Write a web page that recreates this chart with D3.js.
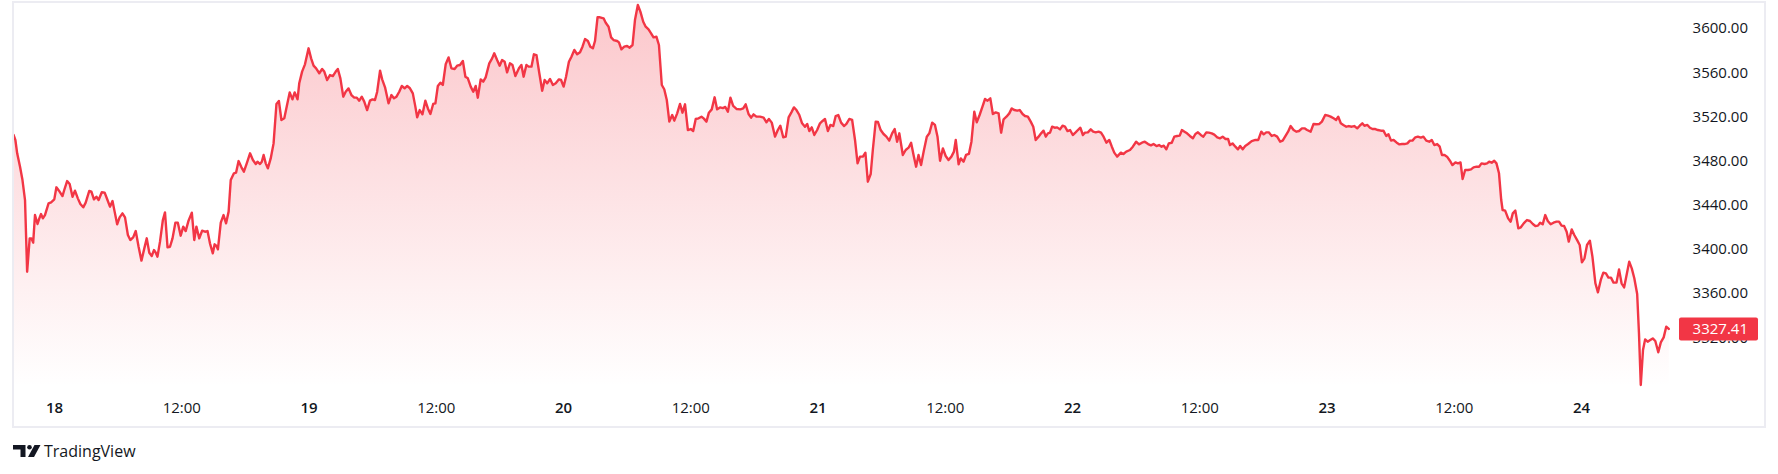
<!DOCTYPE html>
<html><head><meta charset="utf-8">
<script src="https://cdn.jsdelivr.net/npm/d3@7"></script>
<style>html,body{margin:0;padding:0;background:#fff;overflow:hidden}</style>
</head><body><svg id="chart" width="1778" height="474"></svg>
<script>
// [hours since the 18th 00:00, price]
const points = [
[-3.86,3503.1],[-3.69,3498.6],[-3.52,3486.5],[-3.25,3474.4],[-3.02,3462.3],[-2.78,3444.2],[-2.58,3379.3],[-2.34,3409.5],[-2.18,3409.5],[-2.01,3405.6],
[-1.84,3430.6],[-1.60,3422.5],[-1.43,3427.6],[-1.27,3431.5],[-1.10,3427.6],[-0.90,3430.6],[-0.56,3441.2],[-0.32,3442.1],[-0.02,3444.8],[0.18,3455.7],
[0.42,3452.7],[0.75,3447.8],[0.92,3453.3],[1.19,3461.4],[1.43,3458.7],[1.70,3447.2],[1.93,3452.7],[2.20,3445.7],[2.44,3440.6],[2.71,3437.6],
[2.94,3441.8],[3.28,3452.4],[3.48,3451.8],[3.72,3444.8],[3.95,3447.2],[4.16,3444.2],[4.46,3451.2],[4.73,3450.9],[4.96,3445.1],[5.23,3438.2],
[5.47,3443.3],[5.67,3433.7],[5.91,3422.2],[6.14,3428.5],[6.41,3432.1],[6.65,3428.5],[6.92,3412.5],[7.15,3408.0],[7.42,3410.4],[7.66,3416.1],
[7.93,3401.9],[8.20,3389.3],[8.47,3400.4],[8.70,3409.5],[8.94,3396.5],[9.17,3393.5],[9.38,3398.9],[9.55,3396.5],[9.71,3392.9],[9.95,3406.5],
[10.22,3426.1],[10.42,3433.0],[10.66,3401.3],[10.89,3401.9],[11.13,3409.5],[11.40,3423.7],[11.63,3423.7],[11.90,3411.9],[12.14,3420.1],[12.37,3416.1],
[12.64,3425.5],[12.95,3432.7],[13.18,3408.0],[13.38,3420.1],[13.65,3409.5],[13.92,3416.4],[14.19,3415.5],[14.43,3416.1],[14.66,3405.0],[14.93,3395.9],
[15.10,3404.1],[15.27,3402.6],[15.41,3399.5],[15.68,3423.7],[15.94,3430.6],[16.18,3423.1],[16.42,3433.7],[16.62,3462.3],[16.92,3468.4],[17.12,3469.0],
[17.36,3479.5],[17.63,3473.8],[17.86,3469.9],[18.13,3477.4],[18.44,3486.5],[18.71,3480.5],[18.98,3476.8],[19.14,3478.9],[19.38,3476.8],[19.55,3478.9],
[19.72,3485.0],[19.92,3477.4],[20.12,3472.9],[20.39,3481.9],[20.66,3495.5],[20.93,3531.2],[21.16,3533.9],[21.40,3516.7],[21.67,3518.2],[21.91,3529.4],
[22.18,3541.7],[22.44,3535.4],[22.65,3541.7],[22.92,3535.4],[23.08,3549.9],[23.35,3560.5],[23.62,3567.1],[23.96,3581.6],[24.20,3572.5],[24.43,3565.9],
[24.67,3563.5],[24.97,3559.0],[25.24,3562.9],[25.44,3560.5],[25.71,3552.9],[25.98,3557.4],[26.25,3556.5],[26.52,3560.5],[26.72,3562.9],[26.96,3554.4],
[27.23,3537.8],[27.46,3542.3],[27.73,3545.3],[28.00,3539.3],[28.27,3536.9],[28.51,3536.9],[28.74,3534.2],[28.98,3537.8],[29.21,3533.3],[29.48,3525.7],
[29.75,3534.2],[29.99,3535.4],[30.22,3534.8],[30.43,3542.3],[30.70,3561.4],[30.90,3553.5],[31.17,3546.3],[31.50,3531.8],[31.77,3539.3],[32.01,3536.3],
[32.25,3537.8],[32.51,3542.3],[32.75,3547.5],[33.02,3545.4],[33.26,3547.5],[33.52,3545.4],[33.79,3540.8],[34.03,3528.8],[34.20,3519.1],[34.44,3525.7],
[34.70,3521.8],[34.97,3534.2],[35.21,3527.2],[35.45,3522.1],[35.71,3531.2],[35.92,3531.8],[36.15,3547.5],[36.39,3550.5],[36.62,3548.4],[36.89,3567.1],
[37.16,3573.4],[37.43,3563.5],[37.73,3562.9],[37.97,3565.9],[38.24,3566.5],[38.51,3570.1],[38.75,3555.9],[38.98,3554.4],[39.25,3546.9],[39.49,3542.3],
[39.72,3547.5],[39.92,3536.9],[40.19,3553.5],[40.43,3551.4],[40.66,3555.3],[41.00,3568.0],[41.27,3572.5],[41.47,3577.1],[41.74,3571.0],[41.98,3565.9],
[42.21,3571.0],[42.45,3569.5],[42.68,3559.8],[42.95,3568.0],[43.19,3566.5],[43.46,3556.5],[43.80,3563.5],[44.03,3566.5],[44.24,3555.9],[44.50,3566.5],
[44.71,3565.0],[44.98,3565.0],[45.21,3576.2],[45.45,3575.5],[45.72,3559.0],[45.99,3543.2],[46.22,3552.9],[46.46,3549.9],[46.73,3553.8],[47.00,3548.4],
[47.27,3549.9],[47.57,3553.5],[47.77,3552.9],[48.01,3546.9],[48.24,3555.9],[48.51,3569.5],
[48.75,3574.0],[49.02,3580.1],[49.29,3576.2],[49.56,3578.0],[49.79,3583.1],[50.03,3590.0],[50.30,3588.2],[50.53,3583.1],[50.77,3581.6],[50.97,3588.2],
[51.21,3609.7],[51.44,3609.7],[51.78,3608.8],[51.98,3604.8],[52.25,3601.2],[52.49,3591.5],[52.72,3589.1],[53.06,3588.2],[53.23,3587.0],[53.46,3580.7],
[53.73,3583.1],[54.00,3583.7],[54.24,3582.2],[54.51,3584.6],[54.74,3607.2],[55.01,3620.8],[55.25,3614.8],[55.52,3605.7],[55.75,3601.2],[56.02,3598.8],
[56.26,3595.2],[56.49,3591.5],[56.76,3592.1],[57.00,3584.6],[57.27,3548.4],[57.50,3544.5],[57.74,3534.8],[57.98,3515.2],[58.25,3521.2],[58.45,3516.1],
[58.72,3522.7],[58.99,3531.2],[59.22,3523.3],[59.46,3530.9],[59.73,3507.6],[60.00,3508.5],[60.23,3506.7],[60.47,3517.6],[60.74,3518.2],[61.01,3519.7],
[61.24,3517.9],[61.48,3515.2],[61.71,3523.3],[61.98,3526.3],[62.25,3537.2],[62.49,3526.3],[62.76,3528.1],[63.03,3527.5],[63.26,3528.5],[63.50,3524.2],
[63.74,3536.9],[64.00,3529.4],[64.34,3526.6],[64.68,3526.3],[64.95,3527.2],[65.18,3530.9],[65.45,3522.1],[65.69,3518.8],[65.92,3521.8],[66.19,3519.7],
[66.53,3519.7],[66.87,3518.8],[67.14,3514.6],[67.37,3517.6],[67.64,3514.3],[67.95,3501.6],[68.21,3507.6],[68.45,3511.5],[68.72,3501.0],[68.96,3501.6],
[69.23,3519.1],[69.49,3523.6],[69.73,3528.1],[69.97,3525.7],[70.24,3521.2],[70.50,3513.7],[70.77,3510.6],[70.98,3513.1],[71.18,3506.7],[71.41,3510.0],
[71.65,3503.1],[71.92,3507.6],[72.19,3513.7],[72.43,3515.8],[72.66,3517.6],[72.93,3506.7],[73.17,3512.2],[73.44,3511.2],[73.67,3520.3],[73.91,3521.2],
[74.18,3514.3],[74.45,3511.2],[74.68,3513.1],[74.95,3517.6],[75.22,3516.7],[75.49,3498.6],[75.73,3477.4],[75.96,3483.5],[76.23,3483.5],[76.47,3487.1],
[76.70,3460.8],[76.97,3467.8],[77.17,3489.5],[77.44,3515.2],[77.65,3514.9],[77.91,3507.6],[78.18,3504.0],[78.45,3501.6],[78.72,3498.0],[78.99,3504.6],
[79.23,3508.5],[79.46,3497.0],[79.67,3504.6],[80.00,3485.0],[80.27,3489.5],[80.54,3491.6],[80.78,3496.1],[81.01,3485.0],[81.25,3474.4],[81.48,3485.0],
[81.72,3475.9],[81.96,3488.0],[82.26,3501.6],[82.50,3504.6],[82.77,3514.3],[83.03,3512.2],[83.27,3501.6],[83.51,3479.8],[83.78,3491.0],[84.04,3484.1],
[84.31,3480.4],[84.58,3483.5],[84.82,3488.0],[84.99,3498.6],[85.26,3476.5],[85.46,3481.9],[85.73,3478.9],[85.96,3485.0],[86.23,3485.9],[86.47,3497.0],
[86.74,3524.2],[86.97,3514.6],[87.24,3521.2],[87.51,3528.8],[87.75,3535.7],[87.99,3534.2],[88.25,3536.3],[88.49,3522.1],[88.76,3523.6],[89.03,3522.7],
[89.27,3505.2],[89.50,3517.3],[89.77,3519.7],[90.04,3522.7],[90.27,3527.2],[90.51,3525.7],[90.78,3525.1],[91.02,3525.7],[91.29,3522.1],[91.52,3520.3],
[91.79,3519.7],[92.06,3515.2],[92.30,3510.6],[92.53,3498.6],[92.80,3501.6],[93.04,3504.6],[93.27,3507.0],[93.48,3501.6],[93.68,3504.6],[93.88,3505.2],
[94.08,3510.6],[94.32,3509.7],[94.55,3510.0],[94.82,3508.2],[95.06,3511.5],[95.29,3510.6],[95.53,3506.7],[95.77,3507.6],[96.03,3503.1],[96.27,3505.2],
[96.51,3507.6],[96.74,3509.7],[96.98,3503.1],[97.18,3505.2],[97.45,3505.5],[97.72,3508.2],[97.95,3506.1],[98.19,3505.5],[98.46,3506.1],[98.69,3505.2],
[98.93,3501.6],[99.20,3496.1],[99.47,3498.6],[99.71,3492.5],[99.94,3487.1],[100.21,3483.5],
[100.56,3487.1],[100.80,3485.9],[101.07,3488.0],[101.42,3489.5],[101.69,3492.5],[102.00,3497.0],[102.27,3494.6],[102.55,3496.1],[102.82,3497.0],[103.13,3494.9],
[103.40,3493.7],[103.64,3494.9],[103.92,3493.1],[104.16,3494.0],[104.40,3492.5],[104.61,3493.4],[104.85,3490.1],[105.08,3495.5],[105.36,3496.1],[105.60,3501.6],
[105.87,3502.2],[106.11,3502.5],[106.32,3507.6],[106.56,3506.1],[106.80,3504.6],[107.07,3502.2],[107.35,3500.1],[107.59,3504.0],[107.83,3505.5],[108.10,3503.1],
[108.34,3501.6],[108.62,3505.5],[108.86,3505.2],[109.13,3504.6],[109.37,3503.4],[109.65,3501.0],[109.92,3500.1],[110.16,3501.6],[110.43,3499.5],[110.67,3499.5],
[110.85,3494.0],[111.09,3495.5],[111.36,3492.5],[111.60,3490.1],[111.81,3493.1],[112.05,3490.1],[112.29,3493.1],[112.56,3494.9],[112.90,3497.6],[113.25,3498.6],
[113.52,3498.6],[113.80,3506.1],[114.03,3503.7],[114.27,3505.5],[114.51,3505.5],[114.79,3502.2],[115.03,3503.1],[115.30,3501.6],[115.58,3497.0],[115.82,3497.9],
[116.09,3502.2],[116.33,3506.1],[116.57,3511.2],[116.85,3507.6],[117.12,3506.1],[117.36,3506.7],[117.64,3509.1],[117.88,3509.1],[118.12,3507.6],[118.46,3506.1],
[118.73,3513.1],[119.01,3512.8],[119.28,3513.1],[119.52,3515.2],[119.83,3521.2],[120.10,3520.6],[120.34,3519.7],[120.62,3518.2],[120.86,3516.7],[121.06,3519.7],
[121.30,3513.7],[121.54,3512.2],[121.82,3510.6],[122.06,3511.2],[122.33,3510.6],[122.57,3511.2],[122.85,3509.1],[123.09,3511.5],[123.33,3513.7],[123.53,3511.5],
[123.81,3512.2],[124.05,3509.7],[124.29,3508.5],[124.56,3508.5],[124.80,3507.6],[125.08,3507.0],[125.32,3507.0],[125.59,3502.2],[125.80,3503.7],[126.04,3498.0],
[126.28,3498.6],[126.55,3496.4],[126.83,3494.6],[127.07,3494.9],[127.31,3494.9],[127.58,3495.5],[127.82,3498.0],[128.06,3498.0],[128.33,3501.0],[128.57,3501.6],
[128.85,3500.7],[129.09,3501.6],[129.36,3498.0],[129.64,3497.0],[129.88,3498.6],[130.12,3494.0],[130.39,3494.9],[130.63,3492.5],[130.84,3485.0],[131.08,3485.0],
[131.32,3483.5],[131.59,3479.8],[131.83,3475.9],[132.11,3478.3],[132.35,3477.4],[132.59,3478.3],[132.79,3463.2],[133.03,3471.4],[133.31,3471.4],[133.58,3472.0],
[133.82,3473.8],[134.10,3474.4],[134.34,3474.4],[134.57,3477.4],[134.85,3476.8],[135.09,3477.4],[135.29,3478.9],[135.53,3478.0],[135.77,3479.8],[135.98,3477.4],
[136.22,3468.4],[136.43,3444.2],[136.56,3435.2],[136.80,3434.6],[137.08,3427.6],[137.32,3424.6],[137.52,3432.1],[137.76,3434.6],[138.04,3418.6],[138.28,3419.5],
[138.55,3423.1],[138.86,3426.1],[139.14,3425.2],[139.41,3422.5],[139.65,3420.7],[139.89,3421.0],[140.10,3423.7],[140.34,3422.2],[140.58,3430.6],[140.82,3425.2],
[141.09,3422.2],[141.36,3423.7],[141.64,3424.6],[141.88,3424.6],[142.12,3421.0],[142.36,3420.7],[142.60,3415.5],[142.80,3406.5],[143.08,3417.6],[143.32,3412.5],
[143.59,3407.9],[143.83,3403.5],[144.04,3387.8],[144.28,3391.4],[144.52,3403.5],[144.79,3407.4],[145.03,3392.9],[145.31,3368.8],[145.55,3360.6],[145.82,3371.8],
[146.06,3378.4],[146.30,3377.8],[146.54,3373.9],[146.78,3373.9],[147.02,3369.4],[147.30,3369.4],[147.54,3381.4],[147.78,3368.8],[148.02,3365.1],[148.22,3374.8],
[148.50,3388.4],[148.74,3382.3],[148.98,3373.3],[149.25,3359.1],[149.42,3323.5],[149.59,3276.7],[149.80,3308.4],[150.00,3318.0],[150.24,3315.9],[150.48,3317.4],
[150.72,3318.9],[150.96,3316.5],[151.24,3306.3],[151.48,3315.3],[151.75,3319.8],[151.99,3329.5],[152.23,3327.41]
];
const priceTicks = [3320, 3360, 3400, 3440, 3480, 3520, 3560, 3600];
const timeTicks = [0, 12, 24, 36, 48, 60, 72, 84, 96, 108, 120, 132, 144];
const timeTickLabels = ["18","12:00","19","12:00","20","12:00","21","12:00","22","12:00","23","12:00","24"];
const lastPrice = 3327.41;

const lineColor = "#f23645";
const textColor = "#131722";
const font = "'Open Sans', 'Noto Sans', sans-serif";

const svg = d3.select("#chart");
const pane = {left: 14, top: 3, right: 1680, bottom: 387};
const x = d3.scaleLinear().domain([0, 144]).range([54.5, 1581.5]);
const y = d3.scaleLinear().domain([3360, 3600]).range([293, 28]);

const defs = svg.append("defs");
defs.append("clipPath").attr("id", "paneClip").append("rect")
  .attr("x", pane.left).attr("y", pane.top)
  .attr("width", pane.right - pane.left).attr("height", pane.bottom - pane.top);
const grad = defs.append("linearGradient").attr("id", "areaGrad")
  .attr("gradientUnits", "userSpaceOnUse")
  .attr("x1", 0).attr("x2", 0).attr("y1", pane.top).attr("y2", pane.bottom);
grad.append("stop").attr("offset", "0").attr("stop-color", lineColor).attr("stop-opacity", 0.28);
grad.append("stop").attr("offset", "1").attr("stop-color", lineColor).attr("stop-opacity", 0.0);

const g = svg.append("g").attr("clip-path", "url(#paneClip)");
g.append("path").datum(points)
  .attr("fill", "url(#areaGrad)")
  .attr("d", d3.area().x(d => x(d[0])).y0(pane.bottom).y1(d => y(d[1])));
g.append("path").datum(points)
  .attr("fill", "none").attr("stroke", lineColor).attr("stroke-width", 2.4)
  .attr("stroke-linejoin", "round").attr("stroke-linecap", "round")
  .attr("d", d3.line().x(d => x(d[0])).y(d => y(d[1])));

// frame
svg.append("rect").attr("x", 13).attr("y", 2).attr("width", 1752).attr("height", 425)
  .attr("fill", "none").attr("stroke", "#ececf2").attr("stroke-width", 2);

// price axis
const ya = svg.append("g");
ya.selectAll("text").data(priceTicks).enter().append("text")
  .attr("x", 1748).attr("y", d => y(d)).attr("dy", "0.36em")
  .attr("text-anchor", "end").attr("fill", textColor)
  .style("font-family", font).style("font-size", "15px")
  .text(d => d3.format(".2f")(d));

// last price label
const ly = y(lastPrice);
svg.append("rect").attr("x", 1679).attr("y", ly - 11.5).attr("width", 79).attr("height", 23)
  .attr("rx", 2).attr("fill", lineColor);
svg.append("text").attr("x", 1748).attr("y", ly).attr("dy", "0.36em")
  .attr("text-anchor", "end").attr("fill", "#ffffff")
  .style("font-family", font).style("font-size", "15px")
  .text(d3.format(".2f")(lastPrice));

// time axis
const xa = svg.append("g");
xa.selectAll("text").data(timeTicks).enter().append("text")
  .attr("x", d => x(d)).attr("y", 408).attr("dy", "0.36em")
  .attr("text-anchor", "middle").attr("fill", textColor)
  .style("font-family", font).style("font-size", "15px")
  .style("font-weight", (d, i) => timeTickLabels[i].includes(":") ? 400 : 600)
  .text((d, i) => timeTickLabels[i]);

// TradingView logo
const logo = svg.append("g").attr("fill", textColor);
logo.append("path").attr("d", "M13,445 H25.5 V457 H20.5 V449.5 H13 Z");
logo.append("circle").attr("cx", 29.5).attr("cy", 447.3).attr("r", 2.3);
logo.append("path").attr("d", "M34.5,445 H40.5 L34,457 H28 Z");
svg.append("text").attr("x", 44).attr("y", 457).attr("fill", textColor)
  .style("font-family", font).style("font-size", "16px").text("TradingView");
</script></body></html>
